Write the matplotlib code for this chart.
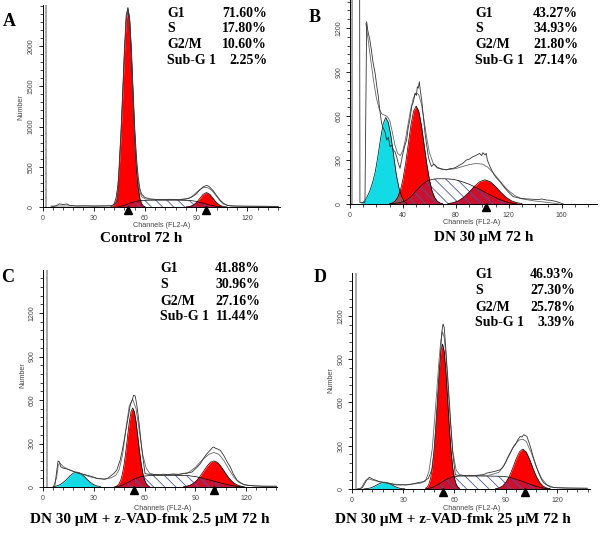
import numpy as np
import matplotlib
matplotlib.use("Agg")
import matplotlib.pyplot as plt
from matplotlib.ticker import MultipleLocator, FixedLocator
from matplotlib.transforms import offset_copy

W, H = 600, 534
plt.rcParams['hatch.linewidth'] = 0.6
plt.rcParams['hatch.color'] = '#4a5a9a'

# ---------------- data ----------------
# Panel A (Control 72 h)
a_g1_ch = list(range(40, 61))
a_g1_n = [4, 14, 42, 108, 248, 500, 887, 1386, 1906, 2308, 2460, 2308, 1906, 1386, 887, 500, 248, 108, 42, 14, 4]
a_g2_ch = list(range(84, 109, 2))
a_g2_n = [1, 6, 20, 52, 103, 157, 180, 157, 103, 52, 20, 6, 1]
a_s_ch = [44, 48, 52, 56, 60, 65, 70, 75, 80, 86, 90, 94, 98, 102, 105]
a_s_n = [0, 20, 55, 75, 83, 85, 85, 85, 85, 82, 70, 48, 25, 8, 0]
a_fit_ch = [5, 42, 44, 45, 46, 47, 48, 49, 50, 51, 52, 53, 54, 55, 56, 57, 58, 60, 65, 70, 80, 86, 88, 90, 92, 94, 96, 98, 100, 102, 104, 106, 110, 138]
a_fit_n = [12, 15, 60, 520, 920, 1420, 1930, 2340, 2480, 2340, 1950, 1420, 930, 560, 320, 190, 130, 100, 92, 90, 92, 110, 140, 180, 215, 240, 245, 225, 185, 130, 75, 35, 12, 8]
a_meas_ch = [5, 8, 10, 12, 14, 16, 20, 25, 30, 35, 40, 42, 44, 45, 46, 47, 48, 49, 50, 51, 52, 53, 54, 55, 56, 57, 58, 60, 63, 66, 70, 75, 80, 84, 87, 90, 92, 94, 96, 97, 98, 100, 102, 104, 106, 108, 112, 120, 130, 138]
a_meas_n = [0, 15, 40, 30, 38, 20, 12, 14, 10, 12, 15, 30, 70, 560, 960, 1450, 1960, 2380, 2470, 2350, 1980, 1460, 980, 620, 380, 230, 160, 118, 100, 95, 92, 95, 90, 98, 120, 160, 210, 250, 268, 262, 245, 200, 140, 85, 45, 22, 12, 9, 8, 6]
a_tri = [50, 96]
a_yticks = [0, 500, 1000, 1500, 2000]
a_stats = ["71.60%", "17.80%", "10.60%", "2.25%"]

# Panel B (DN 30 uM 72 h)
b_sub_ch = list(range(9, 44, 2))
b_sub_n = [5, 20, 50, 90, 145, 215, 320, 440, 545, 590, 555, 460, 330, 200, 110, 50, 18, 5]
b_g1_ch = list(range(30, 71, 2))
b_g1_n = [3, 7, 19, 44, 90, 167, 275, 405, 535, 632, 668, 632, 535, 405, 275, 167, 90, 44, 19, 7, 3]
b_g2_ch = list(range(74, 131, 4))
b_g2_n = [3, 9, 22, 46, 80, 120, 152, 165, 152, 120, 80, 46, 22, 9, 3]
b_s_ch = [30, 34, 38, 42, 46, 50, 54, 58, 62, 66, 70, 74, 78, 82, 86, 90, 94, 98, 102, 106, 110, 114, 118, 122, 126]
b_s_n = [0, 4, 10, 22, 48, 90, 128, 155, 168, 172, 172, 171, 168, 160, 148, 135, 118, 100, 80, 62, 44, 28, 15, 6, 0]
b_fit_ch = [12, 14, 16, 18, 20, 22, 24, 26, 28, 30, 32, 34, 36, 38, 40, 42, 44, 46, 48, 50, 52, 54, 56, 58, 60, 63, 66, 70, 75, 80, 85, 90, 95, 100, 104, 108, 112, 116, 120, 125, 130, 140, 150, 158]
b_fit_n = [1230, 1100, 960, 830, 720, 650, 615, 605, 598, 570, 490, 400, 345, 330, 365, 445, 550, 650, 725, 758, 745, 680, 570, 450, 350, 275, 245, 235, 235, 242, 255, 268, 276, 272, 252, 215, 172, 128, 90, 55, 35, 20, 10, 0]
b_meas_ch = [0, 1.5, 1.7, 6.8, 7.5, 11.3, 12.6, 13.5, 15, 16, 17.5, 19, 20, 21.4, 22.5, 23.9, 25, 26.4, 27, 27.7, 29, 30.2, 31.5, 33, 34, 35.3, 36.5, 37.8, 39, 40.3, 41.5, 42.8, 44, 45, 46.6, 48, 49.1, 50.2, 50.9, 51.6, 52.4, 53.2, 54.2, 55.5, 56.7, 58, 59.2, 60.5, 61.7, 63, 64.2, 66, 68, 70, 73, 75, 78, 80, 83, 85, 88, 90, 93, 95, 98, 99.5, 100.5, 102, 103, 103.8, 105.8, 108.3, 110, 113.4, 116, 118.4, 121, 123.4, 126, 128.5, 132, 135, 138.5, 142, 145, 148.6, 152, 156.2, 161.2]
b_meas_n = [0, 0, 5000, 5000, 10, 10, 1243, 1180, 1118, 1060, 960, 891, 820, 732, 640, 550, 520, 493, 470, 436, 455, 391, 400, 365, 357, 320, 277, 243, 300, 357, 400, 436, 520, 560, 664, 700, 755, 740, 800, 790, 834, 770, 709, 590, 482, 400, 323, 280, 255, 270, 266, 250, 243, 238, 232, 240, 243, 250, 266, 275, 300, 305, 323, 330, 345, 330, 350, 335, 345, 300, 255, 209, 185, 152, 120, 95, 70, 50, 45, 39, 36, 34, 32, 30, 34, 27, 25, 16, 0]
b_tri = [103]
b_yticks = [0, 300, 600, 900, 1200]
b_stats = ["43.27%", "34.93%", "21.80%", "27.14%"]

# Panel C (DN 30 uM + z-VAD-fmk 2.5 uM 72 h)
c_sub_ch = list(range(6, 35, 2))
c_sub_n = [3, 7, 16, 32, 53, 77, 96, 103, 96, 77, 53, 32, 16, 7, 3]
c_g1_ch = list(range(43, 64))
c_g1_n = [4, 10, 24, 50, 94, 161, 250, 351, 448, 519, 545, 519, 448, 351, 250, 161, 94, 50, 24, 10, 4]
c_g2_ch = list(range(83, 120, 2))
c_g2_n = [2, 6, 13, 26, 47, 76, 111, 145, 171, 180, 171, 145, 111, 76, 47, 26, 13, 6, 2]
c_s_ch = [42, 46, 50, 54, 58, 62, 66, 70, 74, 78, 82, 86, 90, 94, 98, 102, 106, 110, 114, 118]
c_s_n = [0, 8, 30, 55, 72, 78, 80, 80, 80, 80, 80, 78, 72, 62, 50, 37, 25, 14, 6, 0]
c_fit_ch = [6, 8, 9, 10, 12, 16, 20, 24, 28, 32, 36, 40, 43, 45, 47, 49, 51, 53, 55, 57, 59, 61, 63, 66, 70, 80, 86, 90, 94, 98, 101, 104, 107, 110, 113, 116, 120, 130, 138]
c_fit_n = [0, 60, 150, 165, 140, 115, 100, 85, 70, 58, 55, 62, 80, 120, 220, 400, 560, 605, 540, 380, 220, 130, 95, 85, 84, 86, 100, 135, 185, 225, 238, 225, 180, 120, 65, 30, 12, 6, 5]
c_meas_ch = [6, 6.9, 8, 8.9, 9.7, 10.5, 12, 14, 16, 18, 20.9, 23, 25.8, 28, 30, 31.8, 34, 36.7, 38.5, 40.6, 42, 43.6, 45.6, 47, 48.5, 50, 51.5, 53, 53.5, 54.5, 55.5, 57, 58.5, 60.3, 62, 65, 68, 71, 74, 77, 80, 83, 85, 88, 90.5, 93, 95, 96.9, 98.5, 100, 100.8, 101.8, 102.8, 104.8, 106.8, 108.5, 110.7, 112.5, 114.7, 118.6, 124.6, 130, 138]
c_meas_n = [0, 0, 100, 179, 174, 139, 130, 125, 117, 108, 94, 90, 82, 75, 68, 60, 57, 53, 62, 82, 95, 117, 185, 260, 360, 460, 560, 610, 632, 628, 560, 420, 250, 92, 88, 87, 85, 88, 86, 90, 87, 92, 95, 103, 130, 161, 200, 230, 250, 270, 276, 268, 264, 253, 218, 180, 138, 90, 46, 16, 7, 5, 5]
c_tri = [54, 101]
c_stats = ["41.88%", "30.96%", "27.16%", "11.44%"]

# Panel D (DN 30 uM + z-VAD-fmk 25 uM 72 h)
d_sub_ch = list(range(7, 32, 2))
d_sub_n = [1, 3, 8, 18, 31, 42, 47, 42, 31, 18, 8, 3, 1]
d_g1_ch = list(range(43, 64))
d_g1_n = [5, 13, 33, 73, 146, 264, 427, 621, 811, 953, 1005, 953, 811, 621, 427, 264, 146, 73, 33, 13, 5]
d_g2_ch = list(range(84, 117, 2))
d_g2_n = [2, 7, 19, 44, 85, 142, 206, 257, 277, 257, 206, 142, 85, 44, 19, 7, 2]
d_s_ch = [43, 47, 51, 55, 59, 63, 70, 80, 88, 92, 96, 100, 104, 108, 112, 116]
d_s_n = [0, 10, 35, 65, 85, 90, 90, 90, 88, 82, 68, 52, 34, 18, 6, 0]
d_fit_ch = [5, 8, 10, 12, 16, 20, 24, 28, 32, 36, 40, 43, 45, 47, 49, 51, 52, 53, 54, 55, 57, 59, 61, 63, 66, 70, 80, 86, 89, 92, 95, 98, 100, 102, 105, 108, 111, 114, 118, 125, 138]
d_fit_n = [0, 60, 70, 62, 50, 45, 35, 28, 30, 35, 40, 55, 120, 280, 580, 900, 1030, 1090, 1050, 920, 560, 260, 130, 100, 92, 92, 95, 115, 165, 240, 305, 340, 345, 330, 250, 150, 75, 30, 10, 6, 5]
d_meas_ch = [3, 6, 8.6, 10.1, 12.5, 14.5, 16.4, 19, 21.3, 24, 26.2, 29, 32, 34.5, 36.9, 39, 41.7, 44.7, 46.7, 48.5, 50, 51.5, 52.5, 53.3, 54, 55, 56.5, 58, 59, 60.5, 63, 66, 70, 74, 77, 79, 82, 84.5, 86.8, 88.3, 89.8, 91.2, 92.7, 94.2, 95.6, 97, 98.5, 99.5, 100.5, 101.5, 102.4, 103.4, 104.4, 106.3, 107.8, 109.3, 110.8, 112.2, 116, 120, 125.9, 137.6]
d_meas_n = [0, 8, 62, 81, 67, 58, 50, 44, 39, 33, 28, 30, 28, 33, 39, 45, 50, 74, 132, 300, 560, 850, 1080, 1145, 1120, 960, 700, 420, 250, 99, 92, 94, 92, 96, 100, 111, 118, 125, 134, 150, 180, 215, 249, 285, 307, 340, 365, 360, 376, 370, 365, 330, 295, 215, 160, 111, 70, 42, 14, 9, 7, 5]
d_tri = [53, 101]
d_stats = ["46.93%", "27.30%", "25.78%", "3.39%"]

stat_labels = ["G1", "S", "G2/M", "Sub-G 1"]
titles = ["Control 72 h", "DN 30 \u03bcM 72 h",
          "DN 30 \u03bcM + z-VAD-fmk 2.5 \u03bcM 72 h",
          "DN 30 \u03bcM + z-VAD-fmk 25 \u03bcM 72 h"]
letters = ["A", "B", "C", "D"]

# ---------------- drawing ----------------
RED = '#ff0000'
CYAN = '#12dbe6'
BROWN = '#a0504c'
DARKRED = '#cc1030'
SERIF = 'Liberation Serif'
SANS = 'Liberation Sans'

fig = plt.figure(figsize=(W / 100, H / 100), dpi=100)


def fx(x):
    return x / W


def fy(y):
    return 1 - y / H


def panel(x0, y0, pxch, pxcnt, xmax_px, ytop_px, xmaj, xmin, yticks, ymin):
    ax = fig.add_axes([fx(x0), fy(y0), (xmax_px - x0) / W, (y0 - ytop_px) / H])
    ax.set_xlim(0, (xmax_px - x0) / pxch)
    ax.set_ylim(0, (y0 - ytop_px) / pxcnt)
    ax.patch.set_alpha(0)
    for s in ['top', 'right']:
        ax.spines[s].set_visible(False)
    for s in ['left', 'bottom']:
        ax.spines[s].set_linewidth(0.7)
    ax.xaxis.set_major_locator(MultipleLocator(xmaj))
    ax.xaxis.set_minor_locator(MultipleLocator(xmin))
    ax.yaxis.set_major_locator(FixedLocator(yticks))
    ax.yaxis.set_minor_locator(MultipleLocator(ymin))
    ax.tick_params(which='major', length=3, width=0.6, pad=2.5,
                   labelsize=5, labelcolor='#444444')
    ax.tick_params(which='minor', length=2, width=0.5)
    ax.tick_params(axis='y', labelrotation=90)
    for lbl in ax.get_xticklabels() + ax.get_yticklabels():
        lbl.set_fontfamily(SANS)
    for lbl in ax.get_yticklabels():
        lbl.set_va('center')
    return ax


def draw(ax, sub, g1, g2, s, fit, meas, tri, gate=None):
    if sub is not None:
        ax.fill_between(sub[0], sub[1], color=CYAN, lw=0, zorder=2)
    pg = []
    for g in (g1, g2):
        p = ax.fill_between(g[0], g[1], color=RED, lw=0, zorder=2)
        pg.append(p)
    # overlaps
    if sub is not None:
        ov = ax.fill_between(sub[0], sub[1], color=BROWN, lw=0, zorder=2.5)
        ov.set_clip_path(pg[0].get_paths()[0], ax.transData)
    for p in pg:
        ov = ax.fill_between(s[0], s[1], color=DARKRED, lw=0, zorder=2.5)
        ov.set_clip_path(p.get_paths()[0], ax.transData)
    ax.fill_between(s[0], s[1], facecolor='none', edgecolor='#4a5a9a',
                    hatch='\\\\\\', lw=0, zorder=3)
    # outlines
    comps = [g1, g2, s] + ([sub] if sub is not None else [])
    for c in comps:
        ax.plot(c[0], c[1], color='black', lw=0.5, zorder=4)
    ax.plot(fit[0], fit[1], color='#666666', lw=0.6, zorder=5)
    ax.plot(meas[0], meas[1], color='#333333', lw=0.6, zorder=5)
    if gate is not None:
        ax.axvline(gate, color='#9a9a9a', lw=1.2, zorder=1)
    tr = offset_copy(ax.transData, fig=fig, x=0, y=-3, units='dots')
    ax.plot(tri, np.zeros(len(tri)), ls='none', marker='^', ms=5.5,
            color='black', transform=tr, clip_on=False, zorder=6)


# Panel A
axA = panel(42.5, 207, 1.708, 0.0805, 280, 5, 30, 6, a_yticks, 100)
draw(axA, None, (a_g1_ch, a_g1_n), (a_g2_ch, a_g2_n), (a_s_ch, a_s_n),
     (a_fit_ch, a_fit_n), (a_meas_ch, a_meas_n), a_tri, gate=2)
# Panel B
axB = panel(350, 204, 1.323, 0.1467, 597, 0, 40, 10, b_yticks, 60)
draw(axB, (b_sub_ch, b_sub_n), (b_g1_ch, b_g1_n), (b_g2_ch, b_g2_n),
     (b_s_ch, b_s_n), (b_fit_ch, b_fit_n), (b_meas_ch, b_meas_n), b_tri)
# Panel C
axC = panel(43, 487, 1.692, 0.145, 277, 270, 30, 6, b_yticks, 60)
draw(axC, (c_sub_ch, c_sub_n), (c_g1_ch, c_g1_n), (c_g2_ch, c_g2_n),
     (c_s_ch, c_s_n), (c_fit_ch, c_fit_n), (c_meas_ch, c_meas_n), c_tri, gate=2.5)
# Panel D
axD = panel(352, 489, 1.708, 0.1442, 590, 273, 30, 6, b_yticks, 60)
draw(axD, (d_sub_ch, d_sub_n), (d_g1_ch, d_g1_n), (d_g2_ch, d_g2_n),
     (d_s_ch, d_s_n), (d_fit_ch, d_fit_n), (d_meas_ch, d_meas_n), d_tri, gate=2.5)

# texts
small = dict(fontfamily=SANS, fontsize=5.2, color='#444444', ha='center', va='center')
for (x, y) in [(162, 226), (472, 222), (163, 508), (472, 509)]:
    fig.text(fx(x), fy(y), "Channels (FL2-A)", **small)
for (x, y) in [(21, 107), (23, 375), (331, 380)]:
    fig.text(fx(x), fy(y), "Number", rotation=90, **small)

bold = dict(fontfamily=SERIF, fontweight='bold', color='black')
for t, (x, y) in zip(titles, [(141, 239), (484, 238), (150, 519), (453, 519)]):
    fig.text(fx(x), fy(y), t, fontsize=11, ha='center', va='center', **bold)
for t, (x, y) in zip(letters, [(9, 21), (315, 18), (8, 277), (320, 277)]):
    fig.text(fx(x), fy(y), t, fontsize=13, ha='center', va='center', **bold)

stat_sets = [a_stats, b_stats, c_stats, d_stats]
stat_pos = [(167, 267, [13.3, 28.3, 44.7, 60]),
            (475, 578, [13.3, 28.3, 44.7, 60]),
            (160, 260, [268.3, 285, 301.7, 316.7]),
            (475, 575, [274.3, 291, 307.3, 322.7])]
for vals, (xl, xr, ys) in zip(stat_sets, stat_pos):
    for lab, v, y in zip(stat_labels, vals, ys):
        fig.text(fx(xl), fy(y), lab, fontsize=10, ha='left', va='center', **bold)
        fig.text(fx(xr), fy(y), v, fontsize=10, ha='right', va='center', **bold)

fig.savefig("out.png", dpi=100)
